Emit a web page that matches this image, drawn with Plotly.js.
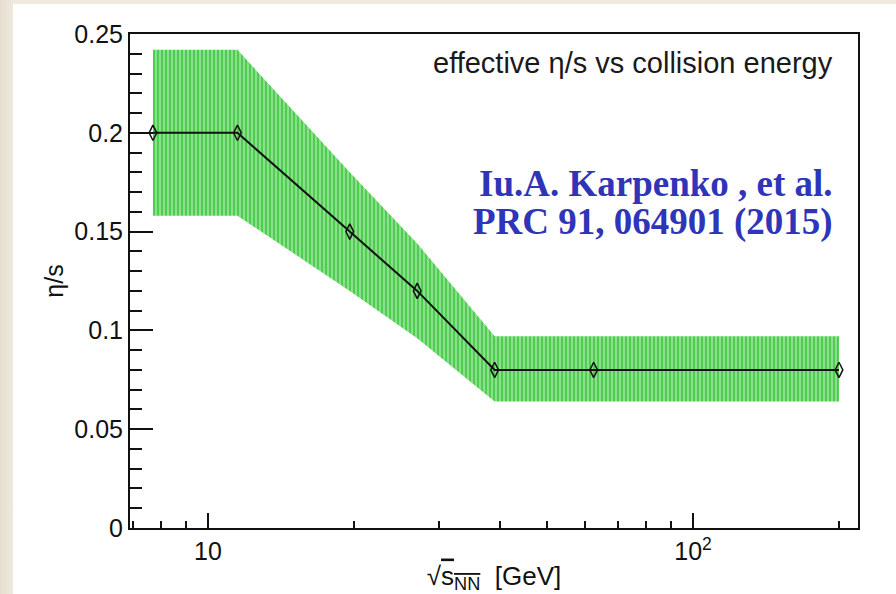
<!DOCTYPE html>
<html>
<head>
<meta charset="utf-8">
<script src="https://cdn.plot.ly/plotly-3.0.1.min.js"></script>
<style>
html,body{margin:0;padding:0;width:896px;height:594px;overflow:hidden;}
#wrap{position:absolute;left:0;top:0;width:896px;height:594px;background:linear-gradient(90deg,#e6dece 0px,#efe9de 13px);}
#plot{position:absolute;left:13px;top:4px;width:883px;height:590px;background:#fff;}
</style>
</head>
<body>
<div id="wrap"><div id="plot"></div></div>
<script>
// collision energies (GeV)
const energies = [7.7, 11.5, 19.6, 27, 39, 62.4, 200];
// effective eta/s
const etaS = [0.2, 0.2, 0.15, 0.12, 0.08, 0.08, 0.08];
// uncertainty band edges
const bandUpper = [0.242, 0.242, 0.18, 0.144, 0.097, 0.097, 0.097];
const bandLower = [0.158, 0.158, 0.12, 0.096, 0.064, 0.064, 0.064];
// tick definitions
const xTickVals = [10, 100];
const xTickText = ['10', '10<sup>2</sup>'];
const xMinorVals = [7, 8, 9, 20, 30, 40, 50, 60, 70, 80, 90, 200];
const yTickVals = [0, 0.05, 0.1, 0.15, 0.2, 0.25];
const yTickText = ['0', '0.05', '0.1', '0.15', '0.2', '0.25'];

const bandX = energies.concat(energies.slice().reverse());
const bandY = bandUpper.concat(bandLower.slice().reverse());

const traces = [
  {
    x: bandX, y: bandY, type: 'scatter', mode: 'lines',
    fill: 'toself', line: {width: 0, color: 'rgba(0,0,0,0)'},
    fillcolor: 'rgb(78,206,78)',
    fillpattern: {shape: '|', fgcolor: 'rgba(255,255,255,0.8)', bgcolor: 'rgb(78,206,78)', size: 4, solidity: 0.22},
    hoverinfo: 'skip', showlegend: false
  },
  {
    x: energies, y: etaS, type: 'scatter', mode: 'lines+markers',
    line: {color: '#111', width: 2},
    marker: {symbol: 'diamond-tall-open', size: 11, color: '#111', line: {width: 1.5, color: '#111'}},
    showlegend: false
  }
];

const fontSans = 'Liberation Sans, Arial, sans-serif';
const layout = {
  width: 883, height: 590,
  margin: {l: 117, r: 38, t: 30, b: 66},
  paper_bgcolor: '#ffffff', plot_bgcolor: '#ffffff',
  showlegend: false,
  xaxis: {
    type: 'log',
    range: [Math.log10(6.905), Math.log10(218.9)],
    tickmode: 'array', tickvals: xTickVals, ticktext: xTickText,
    ticks: 'inside', ticklen: 15, tickwidth: 2, tickcolor: '#111',
    minor: {tickmode: 'array', tickvals: xMinorVals, ticks: 'inside', ticklen: 7, tickwidth: 2, tickcolor: '#111', showgrid: false},
    showline: true, linecolor: '#111', linewidth: 2, mirror: true,
    showgrid: false, zeroline: false,
    tickfont: {family: fontSans, size: 25, color: '#111'},
    title: {text: '√<span style="text-decoration:overline">s<sub>NN</sub></span>  [GeV]', font: {family: fontSans, size: 26, color: '#111'}, standoff: 6}
  },
  yaxis: {
    range: [0, 0.25],
    tickmode: 'array', tickvals: yTickVals, ticktext: yTickText,
    ticks: 'inside', ticklen: 23, tickwidth: 2, tickcolor: '#111',
    minor: {dtick: 0.01, ticks: 'inside', ticklen: 12, tickwidth: 2, tickcolor: '#111', showgrid: false},
    showline: true, linecolor: '#111', linewidth: 2, mirror: true,
    showgrid: false, zeroline: false,
    tickfont: {family: fontSans, size: 25, color: '#111'},
    title: {text: 'η/s', font: {family: fontSans, size: 25, color: '#111'}, standoff: 4}
  },
  annotations: [
    {xref: 'paper', yref: 'paper', x: 0.9684, y: 0.941, xanchor: 'right', yanchor: 'middle',
     text: 'effective η/s vs collision energy', showarrow: false,
     font: {family: fontSans, size: 29, color: '#1a1a1a'}},
    {xref: 'paper', yref: 'paper', x: 0.9684, y: 0.698, xanchor: 'right', yanchor: 'middle',
     text: '<b>Iu.A. Karpenko , et al.</b>', showarrow: false,
     font: {family: 'Liberation Serif, Times New Roman, serif', size: 37, color: '#2f35b8'}},
    {xref: 'paper', yref: 'paper', x: 0.9684, y: 0.620, xanchor: 'right', yanchor: 'middle',
     text: '<b>PRC 91, 064901 (2015)</b>', showarrow: false,
     font: {family: 'Liberation Serif, Times New Roman, serif', size: 37, color: '#2f35b8'}}
  ]
};

Plotly.newPlot('plot', traces, layout, {staticPlot: true, displayModeBar: false});
</script>
</body>
</html>
